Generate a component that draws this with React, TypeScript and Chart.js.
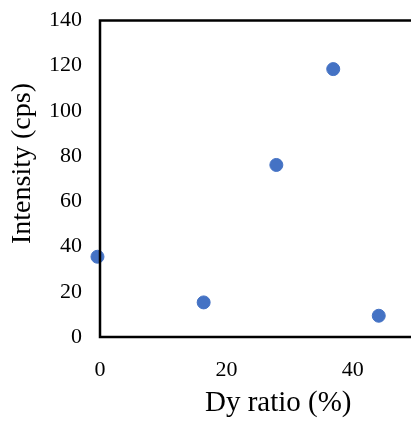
import React, { useEffect, useRef } from "react";
import { Chart, registerables } from "chart.js";

Chart.register(...registerables);

const dyRatio: number[] = [-0.4, 16.4, 27.9, 36.9, 44.1];
const intensity: number[] = [35.5, 15.3, 76.1, 118.5, 9.4];
const xTicks: number[] = [0, 20, 40];
const yTicks: number[] = [0, 20, 40, 60, 80, 100, 120, 140];
const xTitle = "Dy ratio (%)";
const yTitle = "Intensity (cps)";
const xRange = { min: 0, max: 56.4 };
const yRange = { min: 0, max: 140 };

const FONT = '"Liberation Serif", "Times New Roman", serif';

const framePlugin = {
  id: "frame",
  afterDraw(chart: any) {
    const { ctx, chartArea } = chart;
    ctx.save();
    ctx.strokeStyle = "#000";
    ctx.lineWidth = 2.5;
    ctx.strokeRect(chartArea.left, chartArea.top, chartArea.right - chartArea.left, chartArea.bottom - chartArea.top);
    ctx.restore();
    ctx.save();
    ctx.font = `28px ${FONT}`;
    ctx.fillStyle = "#000";
    ctx.textAlign = "center";
    ctx.textBaseline = "middle";
    ctx.translate(22.5, chartArea.top + 143);
    ctx.rotate(-Math.PI / 2);
    ctx.fillText(yTitle, 0, 0);
    ctx.restore();
  },
};

export default function App() {
  const ref = useRef<HTMLCanvasElement>(null);
  useEffect(() => {
    if (!ref.current) return;
    const chart = new Chart(ref.current, {
      type: "scatter",
      data: {
        datasets: [
          {
            data: dyRatio.map((x, i) => ({ x, y: intensity[i] })),
            backgroundColor: "#4472C4",
            borderColor: "#4472C4",
            pointRadius: 6.5,
            pointHoverRadius: 6.5,
            clip: false as any,
          },
        ],
      },
      options: {
        animation: false,
        responsive: false,
        maintainAspectRatio: false,
        layout: { padding: { top: 20.5, right: 3, left: 0, bottom: 0 } },
        plugins: { legend: { display: false }, tooltip: { enabled: false } },
        scales: {
          x: {
            type: "linear",
            min: xRange.min,
            max: xRange.max,
            grid: { display: false, drawTicks: false },
            border: { display: false },
            ticks: {
              color: "#000",
              font: { family: FONT, size: 22 },
              padding: 20,
              maxRotation: 0,
              autoSkip: false,
            },
            afterBuildTicks: (s: any) => {
              s.ticks = xTicks.map((v) => ({ value: v }));
            },
            title: {
              display: true,
              text: xTitle,
              color: "#000",
              font: { family: FONT, size: 29 },
              padding: { top: 0, bottom: 0 },
            },
            afterFit: (s: any) => {
              s.height = 84;
              s.paddingLeft = 0;
              s.paddingRight = 0;
            },
          },
          y: {
            type: "linear",
            min: yRange.min,
            max: yRange.max,
            grid: { display: false, drawTicks: false },
            border: { display: false },
            ticks: {
              color: "#000",
              font: { family: FONT, size: 22 },
              padding: 18,
              autoSkip: false,
            },
            afterBuildTicks: (s: any) => {
              s.ticks = yTicks.map((v) => ({ value: v }));
            },
            afterFit: (s: any) => {
              s.width = 100;
              s.paddingTop = 0;
              s.paddingBottom = 0;
            },
          },
        },
      },
      plugins: [framePlugin],
    });
    return () => chart.destroy();
  }, []);
  return (
    <div style={{ position: "fixed", left: 0, top: 0, width: 411, height: 421, overflow: "hidden", background: "#fff" }}>
      <canvas ref={ref} width={464} height={421} style={{ width: 464, height: 421 }} />
    </div>
  );
}
